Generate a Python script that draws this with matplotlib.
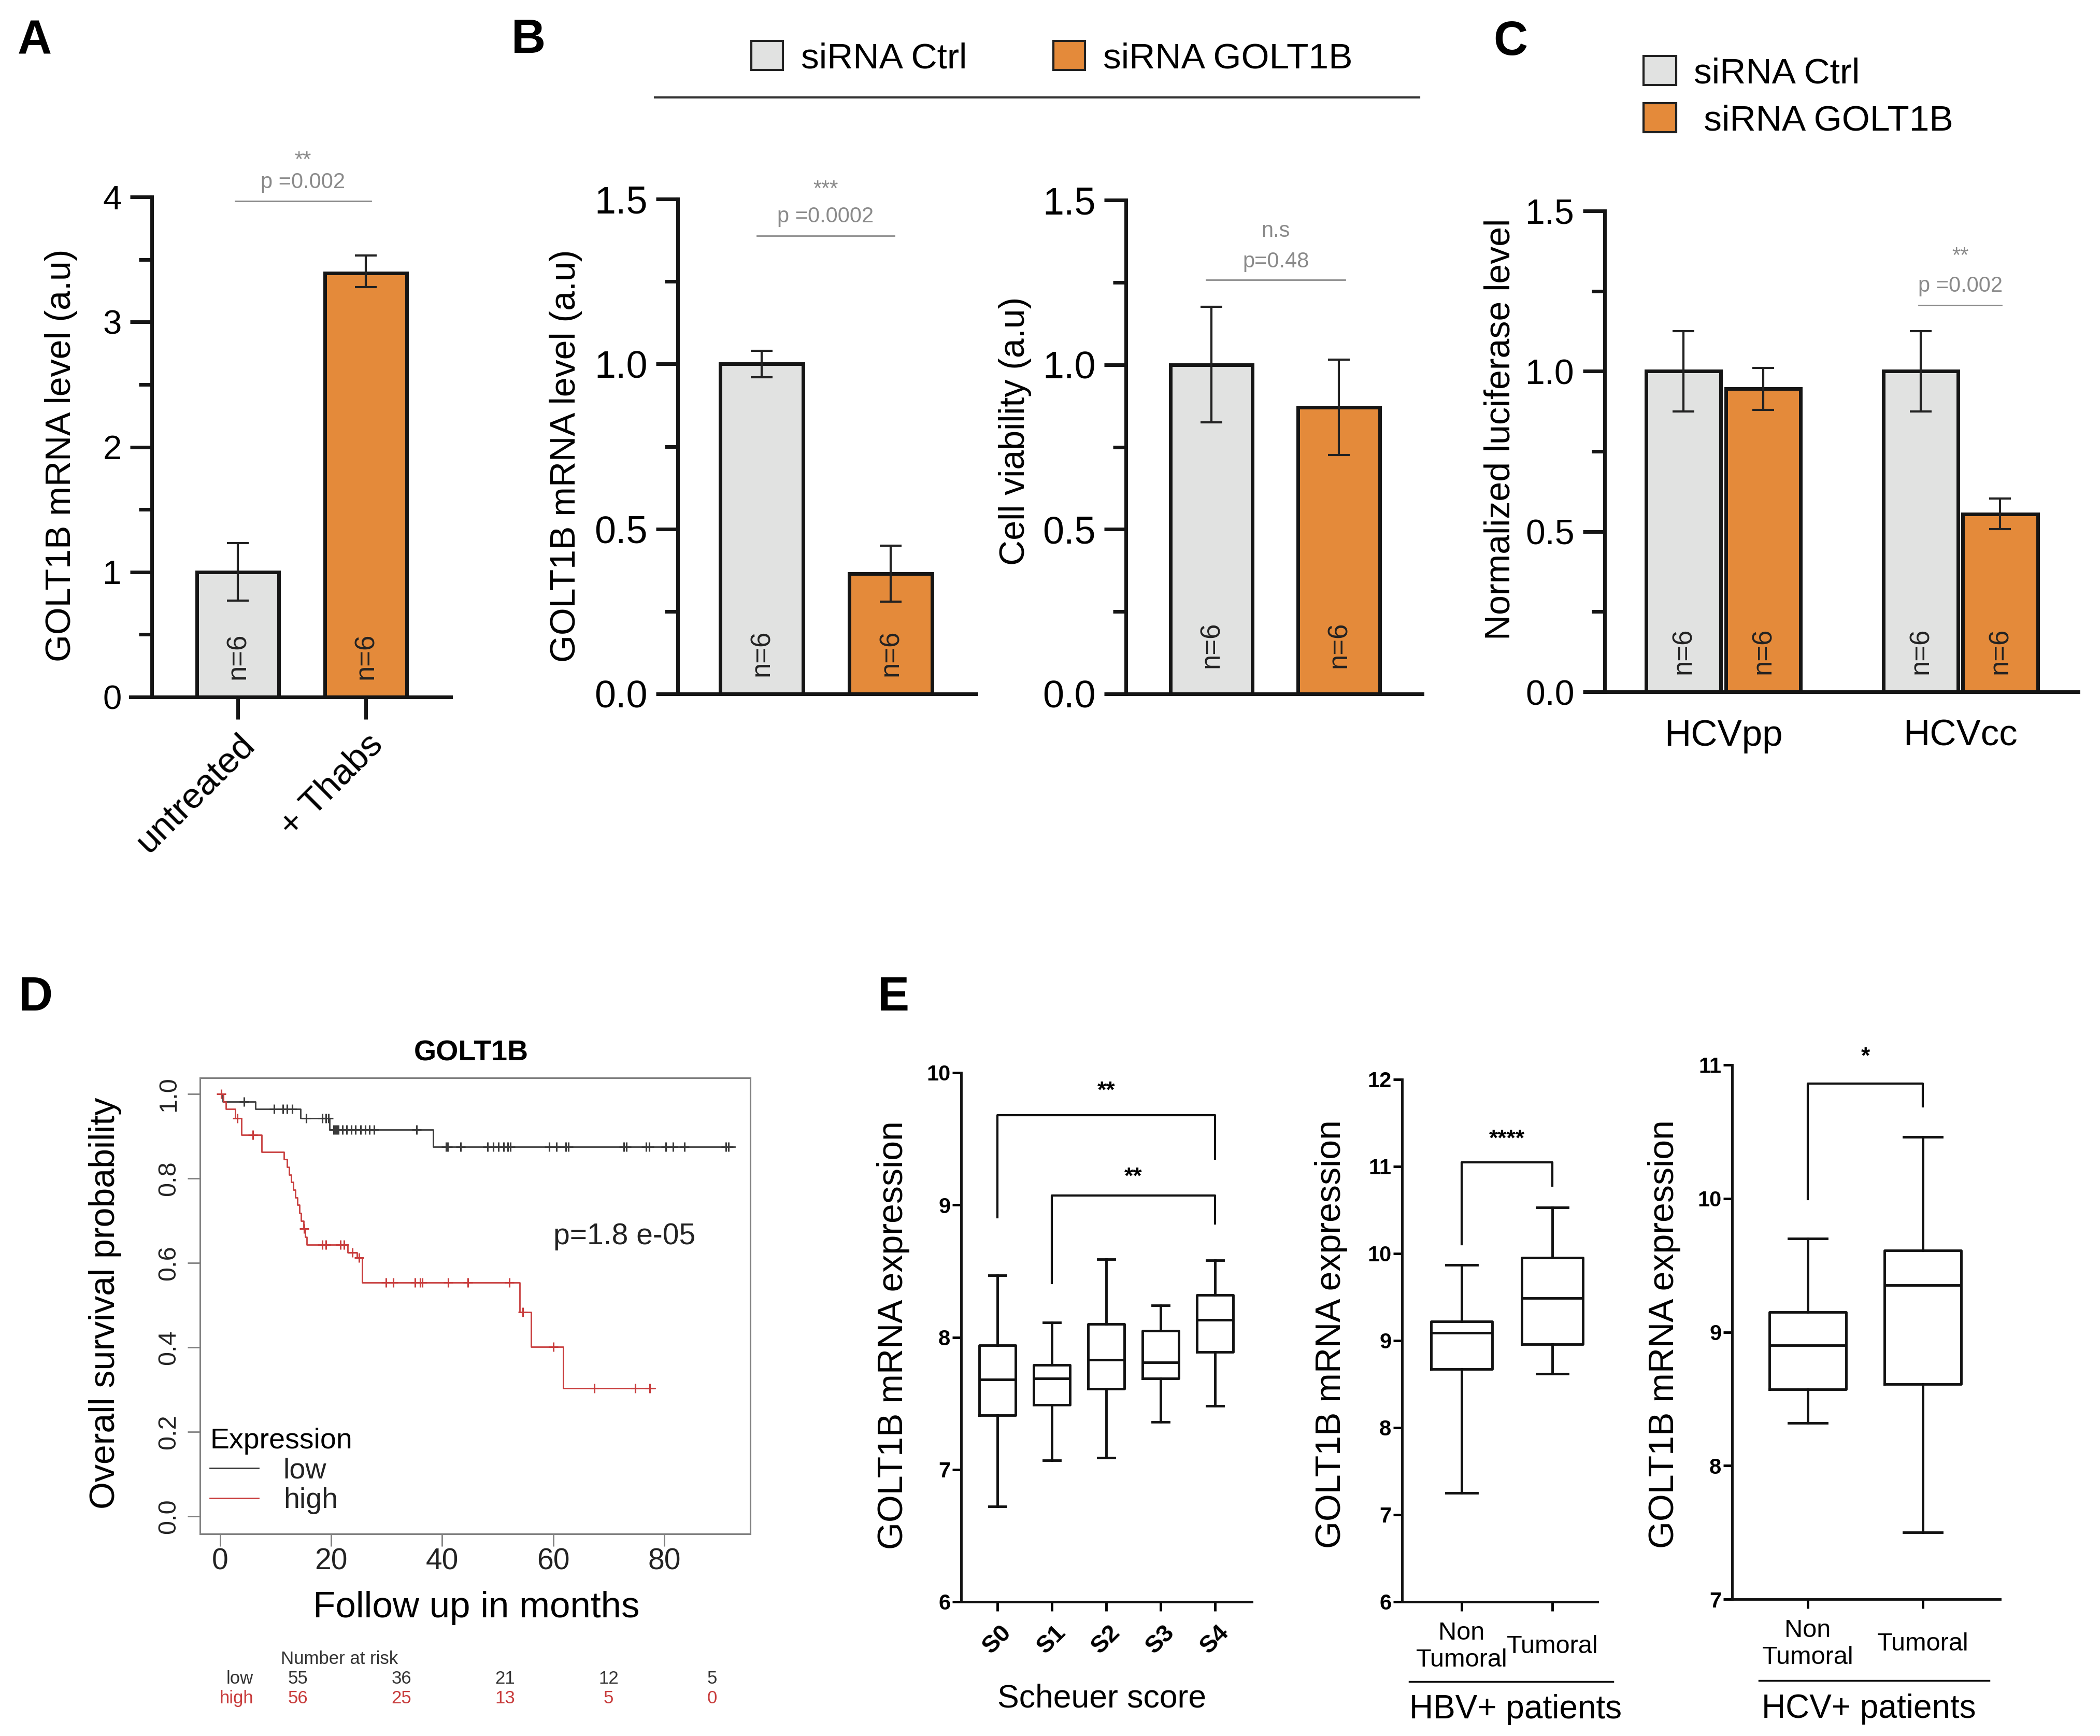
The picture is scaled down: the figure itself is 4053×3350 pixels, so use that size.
import numpy as np
import matplotlib
matplotlib.use('Agg')
import matplotlib.pyplot as plt
from matplotlib.patches import Patch
from matplotlib.lines import Line2D
from matplotlib.ticker import MultipleLocator, FormatStrFormatter

plt.rcParams['font.family'] = ['Liberation Sans', 'DejaVu Sans']

W, H = 4053, 3350
GRAY = '#e1e2e1'
ORANGE = '#e48a3a'
SIG = '#8a8a8a'
LOWC = '#3a3a3a'
HIGHC = '#c83c3c'

# ---- panel A
a_groups = ['untreated', '+ Thabs']
a_mean = [1.0, 3.39]
a_err_lo = [0.23, 0.11]
a_err_hi = [0.23, 0.14]

# ---- panel B
b_mrna_mean = [1.0, 0.365]
b_mrna_err = [0.04, 0.085]
b_via_mean = [1.0, 0.87]
b_via_err = [0.175, 0.145]

# ---- panel C
c_groups = ['HCVpp', 'HCVcc']
c_ctrl_mean = [1.0, 1.0]
c_ctrl_err = [0.125, 0.125]
c_golt_mean = [0.945, 0.555]
c_golt_err = [0.065, 0.048]

# ---- panel D (Kaplan-Meier)
low_t = [0, 0.5, 6.3, 14.5, 19.7, 38.4]
low_s = [1.0, 0.981, 0.964, 0.942, 0.915, 0.875]
low_end = 92.7
low_cens = [4.3, 9.7, 11.3, 12.0, 13.0, 15.5, 18.4, 19.0, 19.5, 20.4, 20.7, 21.0,
            21.3, 22.0, 22.8, 23.6, 24.4, 25.3, 26.1, 26.9, 27.7, 35.4, 40.7, 41.0,
            43.3, 48.2, 49.2, 50.1, 51.1, 51.8, 52.3, 59.3, 60.6, 62.3, 62.7, 72.7,
            73.2, 76.7, 77.3, 80.3, 81.6, 83.6, 91.1, 91.6]
high_t = [0, 0.6, 1.0, 2.7, 3.8, 7.5, 11.5, 12.0, 12.4, 12.8, 13.2, 13.5, 13.9,
          14.3, 14.6, 15.0, 15.3, 15.6, 23.0, 24.6, 25.6, 54.0, 56.0, 61.8]
high_s = [1.0, 0.982, 0.964, 0.942, 0.903, 0.863, 0.845, 0.827, 0.809, 0.791, 0.773,
          0.755, 0.737, 0.718, 0.700, 0.681, 0.662, 0.643, 0.625, 0.613, 0.553,
          0.483, 0.402, 0.303]
high_end = 78.3
high_cens = [0.2, 3.1, 5.9, 15.1, 18.4, 19.0, 21.7, 22.3, 23.8, 25.0, 29.9, 31.2,
             35.1, 36.0, 36.4, 41.1, 44.6, 52.1, 54.5, 60.0, 67.4, 74.8, 77.4]
risk_times = [0, 20, 40, 60, 80]
risk_low = [55, 36, 21, 12, 5]
risk_high = [56, 25, 13, 5, 0]

# ---- panel E (box plots: whislo, q1, med, q3, whishi)
e1_labels = ['S0', 'S1', 'S2', 'S3', 'S4']
e1_whislo = [6.72, 7.07, 7.09, 7.36, 7.48]
e1_q1 = [7.41, 7.49, 7.61, 7.69, 7.89]
e1_med = [7.68, 7.69, 7.83, 7.81, 8.13]
e1_q3 = [7.94, 7.79, 8.10, 8.05, 8.32]
e1_whishi = [8.47, 8.11, 8.59, 8.24, 8.58]

e2_labels = ['Non\nTumoral', 'Tumoral']
e2_whislo = [7.25, 8.62]
e2_q1 = [8.67, 8.96]
e2_med = [9.09, 9.49]
e2_q3 = [9.22, 9.95]
e2_whishi = [9.87, 10.53]

e3_labels = ['Non\nTumoral', 'Tumoral']
e3_whislo = [8.32, 7.50]
e3_q1 = [8.57, 8.61]
e3_med = [8.90, 9.35]
e3_q3 = [9.15, 9.61]
e3_whishi = [9.70, 10.46]

fig = plt.figure(figsize=(W / 100, H / 100), dpi=100)


def add_ax(l, t, r, b):
    return fig.add_axes([l / W, 1 - b / H, (r - l) / W, (b - t) / H])


def fig_xy(x, y):
    return x / W, 1 - y / H


def style_bar_ax(ax, spine_x, top, major, minor, fs, fmt):
    ax.set_ylim(0, top)
    for s in ['top', 'right']:
        ax.spines[s].set_visible(False)
    ax.spines['left'].set_position(('data', spine_x))
    for s in ['left', 'bottom']:
        ax.spines[s].set_linewidth(5)
        ax.spines[s].set_color('#151515')
    ax.yaxis.set_major_locator(MultipleLocator(major))
    ax.yaxis.set_minor_locator(MultipleLocator(minor))
    ax.yaxis.set_major_formatter(FormatStrFormatter(fmt))
    ax.tick_params(axis='y', which='major', length=30, width=5, pad=12, labelsize=fs,
                   color='#151515')
    ax.tick_params(axis='y', which='minor', length=18, width=5, color='#151515')
    ax.set_facecolor('none')


def bars(ax, x, vals, lo, hi, colors, width, n_off):
    ax.bar(x, vals, width, color=colors, edgecolor='#151515', linewidth=5, zorder=2)
    ax.errorbar(x, vals, yerr=[lo, hi], fmt='none', ecolor='#222222', elinewidth=3,
                capsize=15, capthick=3, zorder=3)
    for xi in x:
        ax.annotate('n=6', xy=(xi, 0), xytext=(0, n_off), textcoords='offset points',
                    rotation=90, ha='center', va='center', fontsize=38, color='#222222',
                    zorder=4)


def sig(ax, x0, x1, yline, ytext, ystar, ptxt, star, fs=30):
    ax.plot([x0, x1], [yline, yline], color=SIG, lw=2, clip_on=False)
    xm = (x0 + x1) / 2
    ax.text(xm, ytext, ptxt, ha='center', va='center', color=SIG, fontsize=fs)
    ax.text(xm, ystar, star, ha='center', va='center', color=SIG, fontsize=fs)


def ylabel(ax, text, x, y, fs=49, **kw):
    ax.set_ylabel(text, fontsize=fs, **kw)
    ax.yaxis.label.set_va('center')
    ax.yaxis.set_label_coords(*fig_xy(x, y), transform=fig.transFigure)


# ================= A =================
axA = add_ax(252, 380, 870, 1345)
axA.set_xlim(-0.838, 1.664)
style_bar_ax(axA, -0.672, 4, 1, 0.5, 47, '%d')
bars(axA, [0, 1], a_mean, a_err_lo, a_err_hi, [GRAY, ORANGE], 0.64, 57)
axA.set_xticks([0, 1], a_groups, rotation=45, ha='right', rotation_mode='anchor',
               fontsize=50)
axA.tick_params(axis='x', length=31, width=5, pad=12, color='#151515')
sig(axA, -0.02, 1.04, 3.967, 4.116, 4.29, 'p =0.002', '**')
ylabel(axA, 'GOLT1B mRNA level (a.u)', 118, 879)

# ================= B =================
axB1 = add_ax(1270, 384, 1884, 1339)
axB1.set_xlim(-0.803, 1.663)
style_bar_ax(axB1, -0.651, 1.5, 0.5, 0.25, 53, '%.1f')
bars(axB1, [0, 1], b_mrna_mean, b_mrna_err, b_mrna_err, [GRAY, ORANGE], 0.643, 57)
axB1.set_xticks([])
sig(axB1, -0.036, 1.028, 1.389, 1.447, 1.528, 'p =0.0002', '***')
ylabel(axB1, 'GOLT1B mRNA level (a.u)', 1092, 880)

axB2 = add_ax(2137, 386, 2745, 1339)
axB2.set_xlim(-0.817, 1.655)
style_bar_ax(axB2, -0.671, 1.5, 0.5, 0.25, 53, '%.1f')
bars(axB2, [0, 1], b_via_mean, b_via_err, b_via_err, [GRAY, ORANGE], 0.64, 68)
axB2.set_xticks([])
sig(axB2, -0.04, 1.05, 1.258, 1.313, 1.406, 'p=0.48', 'n.s')
ylabel(axB2, 'Cell viability (a.u)', 1959, 832)

handles = [Patch(facecolor=GRAY, edgecolor='#222222', linewidth=3),
           Patch(facecolor=ORANGE, edgecolor='#222222', linewidth=3)]
fig.legend(handles, ['siRNA Ctrl', 'siRNA GOLT1B'], loc='center',
           bbox_to_anchor=fig_xy(2030, 112), ncol=2, frameon=False, fontsize=50,
           handlelength=0.88, handleheight=0.87, handletextpad=0.5, columnspacing=2.4)
fig.add_artist(Line2D([1264 / W, 2739 / W], [1 - 188 / H, 1 - 188 / H], color='#333333',
                      lw=3))

# ================= C =================
axC = add_ax(3060, 407, 4011, 1335)
axC.set_xlim(-0.581, 1.497)
style_bar_ax(axC, -0.5, 1.5, 0.5, 0.25, 49, '%.1f')
xc = np.arange(len(c_groups))
bars(axC, xc - 0.168, c_ctrl_mean, c_ctrl_err, c_ctrl_err, GRAY, 0.315, 57)
bars(axC, xc + 0.168, c_golt_mean, c_golt_err, c_golt_err, ORANGE, 0.315, 57)
axC.set_xticks(xc, c_groups, fontsize=51)
axC.tick_params(axis='x', length=0, pad=38)
sig(axC, 0.824, 1.174, 1.206, 1.265, 1.358, 'p =0.002', '**')
ylabel(axC, 'Normalized luciferase level', 2896, 828)
fig.legend(handles, ['siRNA Ctrl', ' siRNA GOLT1B'], loc='upper left',
           bbox_to_anchor=fig_xy(3172, 108), frameon=False, fontsize=50,
           handlelength=0.9, handleheight=0.87, handletextpad=0.5, labelspacing=0.36,
           borderpad=0, borderaxespad=0)

# ================= D =================
axD = add_ax(385.5, 2079.6, 1448, 2959.7)
axD.set_xlim(-3.69, 95.5)
axD.set_ylim(-0.041, 1.0385)


def km(t, s, end, cens, color):
    t = np.asarray(t)
    s = np.asarray(s)
    axD.step(np.r_[t, end], np.r_[s, s[-1]], where='post', color=color, lw=2)
    cy = s[np.searchsorted(t, cens, side='right') - 1]
    axD.plot(cens, cy, ls='none', marker='+', ms=13, mew=2.2, color=color)


km(low_t, low_s, low_end, low_cens, LOWC)
km(high_t, high_s, high_end, high_cens, HIGHC)
for s in axD.spines.values():
    s.set_color('#808080')
    s.set_linewidth(2.2)
axD.set_xticks([0, 20, 40, 60, 80])
axD.set_yticks([0, 0.2, 0.4, 0.6, 0.8, 1.0], ['0.0', '0.2', '0.4', '0.6', '0.8', '1.0'])
axD.tick_params(axis='x', length=17, width=2, color='#808080', labelsize=41, pad=2,
                labelcolor='#222222')
axD.tick_params(axis='y', length=17, width=2, color='#808080', labelsize=35, pad=10,
                labelcolor='#222222', labelrotation=90)
for lbl in axD.get_yticklabels():
    lbl.set_va('center')
axD.text(0.4927, 1.054, 'GOLT1B', transform=axD.transAxes, ha='center', va='center',
         fontsize=40, fontweight='bold')
axD.text(60, 0.663, 'p=1.8 e-05', ha='left', va='center', fontsize=41, color='#222222')
ylabel(axD, 'Overall survival probability', 203, 2515)
axD.set_xlabel('Follow up in months', fontsize=51)
axD.xaxis.label.set_va('center')
axD.xaxis.set_label_coords(*fig_xy(919, 3103), transform=fig.transFigure)
leg = axD.legend([Line2D([], [], color=LOWC, lw=2), Line2D([], [], color=HIGHC, lw=2)],
                 ['low', 'high'], title='Expression', loc='upper left',
                 bbox_to_anchor=fig_xy(405, 2755), bbox_transform=fig.transFigure,
                 frameon=False, fontsize=40, title_fontsize=40, handlelength=1.7,
                 handletextpad=0.85, labelspacing=0.1, borderpad=0, borderaxespad=0,
                 alignment='left')
for txt in leg.get_texts():
    txt.set_color('#222222')

axR = add_ax(575, 3183, 1374, 3296)
axR.set_xlim(0, 80)
axR.set_ylim(2.5, -0.5)
axR.axis('off')
axR.text(8.0, 0, 'Number at risk', ha='center', va='center', fontsize=25, color='#333333',
         clip_on=False)
axR.text(-8.6, 1, 'low', ha='right', va='center', fontsize=25, color='#333333', clip_on=False)
axR.text(-8.6, 2, 'high', ha='right', va='center', fontsize=25, color=HIGHC, clip_on=False)
for t, nl, nh in zip(risk_times, risk_low, risk_high):
    axR.text(t, 1, str(nl), ha='center', va='center', fontsize=25, color='#333333',
             clip_on=False)
    axR.text(t, 2, str(nh), ha='center', va='center', fontsize=25, color=HIGHC,
             clip_on=False)

# ================= E =================


def box_ax(ax, lo, q1, med, q3, hi, width, capw, ylim):
    stats = [dict(whislo=a, q1=b, med=c, q3=d, whishi=e, fliers=[])
             for a, b, c, d, e in zip(lo, q1, med, q3, hi)]
    lp = dict(color='#111111', linewidth=3.5)
    ax.bxp(stats, positions=np.arange(len(stats)), widths=width, capwidths=capw,
           showfliers=False, boxprops=lp, medianprops=lp, whiskerprops=lp, capprops=lp)
    ax.set_ylim(*ylim)
    ax.yaxis.set_major_locator(MultipleLocator(1))
    for s in ['top', 'right']:
        ax.spines[s].set_visible(False)
    for s in ['left', 'bottom']:
        ax.spines[s].set_linewidth(3.5)
        ax.spines[s].set_color('#111111')
    ax.tick_params(axis='y', length=12, width=3.5, pad=3, labelsize=30)
    ax.tick_params(axis='x', length=13, width=3.5)
    for lbl in ax.get_yticklabels():
        lbl.set_fontweight('bold')


def bracket(ax, x0, x1, y0, ytop, y1, ystar, star):
    ax.plot([x0, x0, x1, x1], [y0, ytop, ytop, y1], color='#111111', lw=3, clip_on=False)
    ax.text((x0 + x1) / 2, ystar, star, ha='center', va='center', fontsize=32,
            fontweight='bold')


axE1 = add_ax(1855, 2070, 2416, 3091)
box_ax(axE1, e1_whislo, e1_q1, e1_med, e1_q3, e1_whishi, 0.66, 0.31, (6, 10))
axE1.set_xlim(-0.667, 4.676)
axE1.set_xticks(range(5), e1_labels, rotation=45, ha='center', fontsize=34,
                fontweight='bold')
axE1.tick_params(axis='x', pad=14)
bracket(axE1, 0, 4, 8.905, 9.68, 9.35, 9.86, '**')
bracket(axE1, 1, 4, 8.41, 9.07, 8.86, 9.21, '**')
ylabel(axE1, 'GOLT1B mRNA expression', 1724, 2577)
axE1.set_xlabel('Scheuer score', fontsize=45)
axE1.xaxis.label.set_va('center')
axE1.xaxis.set_label_coords(*fig_xy(2127, 3278), transform=fig.transFigure)

axE2 = add_ax(2706, 2083, 3083, 3091)
box_ax(axE2, e2_whislo, e2_q1, e2_med, e2_q3, e2_whishi, 0.67, 0.34, (6, 12))
axE2.set_xlim(-0.657, 1.497)
axE2.set_xticks([0, 1], e2_labels, fontsize=35)
axE2.tick_params(axis='x', pad=49)
for lbl in axE2.get_xticklabels():
    lbl.set_va('center')
bracket(axE2, 0, 1, 10.11, 11.05, 10.78, 11.31, '****')
ylabel(axE2, 'GOLT1B mRNA expression', 2569, 2575)

axE3 = add_ax(3343, 2055, 3860, 3086)
box_ax(axE3, e3_whislo, e3_q1, e3_med, e3_q3, e3_whishi, 0.67, 0.33, (7, 11))
axE3.set_xlim(-0.658, 1.671)
axE3.set_xticks([0, 1], e3_labels, fontsize=35)
axE3.tick_params(axis='x', pad=49)
for lbl in axE3.get_xticklabels():
    lbl.set_va('center')
bracket(axE3, 0, 1, 9.995, 10.86, 10.69, 11.06, '*')
ylabel(axE3, 'GOLT1B mRNA expression', 3212, 2575)

fig.add_artist(Line2D([2720 / W, 3113 / W], [1 - 3245 / H] * 2, color='#111111', lw=2.5))
fig.add_artist(Line2D([3395 / W, 3839 / W], [1 - 3243 / H] * 2, color='#111111', lw=2.5))
fig.text(*fig_xy(2925, 3299), 'HBV+ patients', ha='center', va='center', fontsize=46)
fig.text(*fig_xy(3607, 3298), 'HCV+ patients', ha='center', va='center', fontsize=46)

# ---- panel letters
for letter, x, y in [('A', 34, 104), ('B', 987, 102), ('C', 2882, 106),
                     ('D', 36, 1950), ('E', 1694, 1950)]:
    fig.text(*fig_xy(x, y), letter, fontsize=66, fontweight='bold', ha='left',
             va='baseline')

fig.savefig('out.png', dpi=100, facecolor='white')
